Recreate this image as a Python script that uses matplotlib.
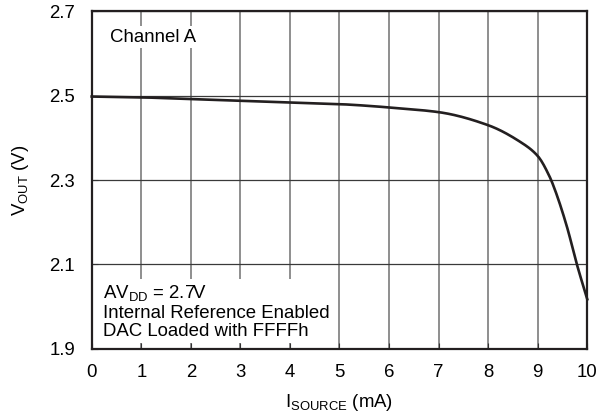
import matplotlib
matplotlib.use("Agg")
import matplotlib.pyplot as plt
import numpy as np

plt.rcParams['font.family'] = ['Liberation Sans', 'DejaVu Sans']
plt.rcParams['mathtext.fontset'] = 'custom'
plt.rcParams['mathtext.rm'] = 'Liberation Sans'
plt.rcParams['mathtext.it'] = 'Liberation Sans'

# Data
i_source = [0, 1, 2, 3, 4, 5, 5.8, 6, 7, 8, 8.64, 9, 9.24, 9.35, 9.59, 9.79, 10]
v_out = [2.498, 2.496, 2.492, 2.488, 2.484, 2.480, 2.474, 2.472, 2.461, 2.430,
         2.391, 2.357, 2.308, 2.276, 2.189, 2.100, 2.017]
x_ticks = [0, 1, 2, 3, 4, 5, 6, 7, 8, 9, 10]
y_ticks = [1.9, 2.1, 2.3, 2.5, 2.7]

FS = 13.4

fig = plt.figure(figsize=(5.97, 4.19), dpi=100)
ax = fig.add_axes([0.1536, 0.168, 0.8301, 0.8048])

xs = np.array(i_source, dtype=float)
ys = np.array(v_out, dtype=float)

# monotone cubic interpolation (PCHIP) for a smooth display curve
def pchip(x, y, xn):
    h = np.diff(x)
    d = np.diff(y) / h
    m = np.zeros_like(y)
    for k in range(1, len(x) - 1):
        if d[k - 1] * d[k] > 0:
            w1 = 2 * h[k] + h[k - 1]
            w2 = h[k] + 2 * h[k - 1]
            m[k] = (w1 + w2) / (w1 / d[k - 1] + w2 / d[k])
    m[0] = d[0]
    m[-1] = d[-1]
    out = np.empty_like(xn)
    for j, xv in enumerate(xn):
        k = min(np.searchsorted(x, xv) - 1, len(x) - 2)
        k = max(k, 0)
        t = (xv - x[k]) / h[k]
        h00 = 2 * t**3 - 3 * t**2 + 1
        h10 = t**3 - 2 * t**2 + t
        h01 = -2 * t**3 + 3 * t**2
        h11 = t**3 - t**2
        out[j] = h00 * y[k] + h10 * h[k] * m[k] + h01 * y[k + 1] + h11 * h[k] * m[k + 1]
    return out

xn = np.linspace(0, 10, 400)
yn = pchip(xs, ys, xn)
ax.plot(xn, yn, color='#231f20', lw=1.9, zorder=3, clip_on=False)

ax.set_xlim(0, 10)
ax.set_ylim(1.9, 2.7)
ax.set_xticks(x_ticks)
ax.set_yticks(y_ticks)
ax.set_xticklabels([str(t) for t in x_ticks])
ax.set_yticklabels([f"{t:.1f}" for t in y_ticks])
ax.grid(True, axis='x', color='#707070', lw=1.1, zorder=1)
ax.grid(True, axis='y', color='#3a3a3a', lw=0.9, zorder=1)
ax.tick_params(direction='in', length=4, width=0.8, color='#333333',
               labelsize=FS, top=False, right=False)
ax.tick_params(axis='x', pad=11)
ax.tick_params(axis='y', pad=12)
for s in ax.spines.values():
    s.set_linewidth(1.6)
    s.set_color('#231f20')
    s.set_zorder(4)

ax.set_xlabel(r'I$_{\mathregular{SOURCE}}$ (mA)', fontsize=FS, labelpad=8)
ax.set_ylabel(r'V$_{\mathregular{OUT}}$ (V)', fontsize=FS, labelpad=13)

ax.text(0.37, 2.639, 'Channel A', fontsize=FS, va='center', ha='left',
        bbox=dict(facecolor='white', edgecolor='none', pad=2), zorder=2)
ax.text(0.23, 1.92, 'AV$_{\\mathregular{DD}}$ = 2.7V\nInternal Reference Enabled\nDAC Loaded with FFFFh',
        fontsize=FS, va='bottom', ha='left', linespacing=1.12,
        bbox=dict(facecolor='white', edgecolor='none', pad=2), zorder=2)

fig.savefig('out.png', dpi=100)
